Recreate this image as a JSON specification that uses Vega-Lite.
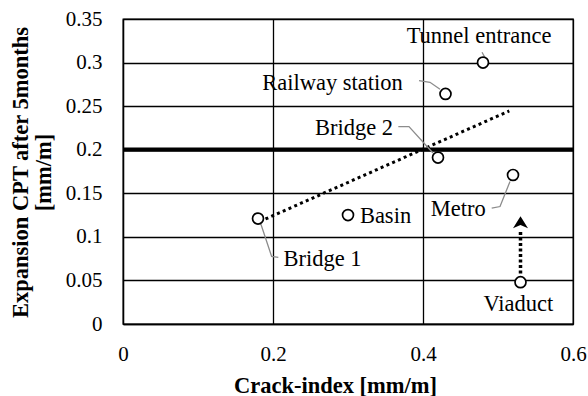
{
  "$schema": "https://vega.github.io/schema/vega-lite/v6.json",
  "width": 450,
  "height": 305,
  "autosize": "none",
  "padding": {"left": 123, "top": 19, "right": 15, "bottom": 72},
  "background": "white",
  "config": {
    "font": "Liberation Serif, Times New Roman, serif",
    "view": {"stroke": "black", "strokeWidth": 1.3},
    "text": {"font": "Liberation Serif, Times New Roman, serif"},
    "axis": {
      "labelFont": "Liberation Serif, Times New Roman, serif",
      "labelFontSize": 21,
      "labelColor": "black",
      "labelFlush": false,
      "labelOverlap": false,
      "ticks": false,
      "grid": true,
      "gridColor": "black",
      "gridWidth": 1.3,
      "gridOpacity": 1,
      "domainColor": "black",
      "domainWidth": 1.3,
      "titleFont": "Liberation Serif, Times New Roman, serif",
      "titleFontWeight": "bold",
      "titleFontSize": 22.5,
      "titleColor": "black"
    }
  },
  "datasets": {
    "sites": [
      {"site": "Tunnel entrance", "x": 0.48, "y": 0.30},
      {"site": "Railway station", "x": 0.43, "y": 0.264},
      {"site": "Bridge 2", "x": 0.42, "y": 0.191},
      {"site": "Metro", "x": 0.52, "y": 0.171},
      {"site": "Basin", "x": 0.30, "y": 0.125},
      {"site": "Bridge 1", "x": 0.18, "y": 0.121},
      {"site": "Viaduct", "x": 0.53, "y": 0.048}
    ],
    "labels": [
      {"text": "Tunnel entrance", "x": 0.4747, "y": 0.3221},
      {"text": "Railway station", "x": 0.2793, "y": 0.2686},
      {"text": "Bridge 2", "x": 0.308, "y": 0.217},
      {"text": "Metro", "x": 0.4471, "y": 0.1245},
      {"text": "Basin", "x": 0.35, "y": 0.1158},
      {"text": "Bridge 1", "x": 0.266, "y": 0.0668},
      {"text": "Viaduct", "x": 0.5271, "y": 0.0152}
    ],
    "leaders": [
      {"site": "Tunnel entrance", "i": 0, "x": 0.4787, "y": 0.3118},
      {"site": "Tunnel entrance", "i": 1, "x": 0.4831, "y": 0.3049},
      {"site": "Railway station", "i": 0, "x": 0.3947, "y": 0.2793},
      {"site": "Railway station", "i": 1, "x": 0.4093, "y": 0.2774},
      {"site": "Railway station", "i": 2, "x": 0.4227, "y": 0.2694},
      {"site": "Bridge 2", "i": 0, "x": 0.3671, "y": 0.2265},
      {"site": "Bridge 2", "i": 1, "x": 0.3813, "y": 0.2265},
      {"site": "Bridge 2", "i": 2, "x": 0.4133, "y": 0.1963},
      {"site": "Metro", "i": 0, "x": 0.516, "y": 0.1635},
      {"site": "Metro", "i": 1, "x": 0.5027, "y": 0.1348},
      {"site": "Metro", "i": 2, "x": 0.4916, "y": 0.133},
      {"site": "Bridge 1", "i": 0, "x": 0.1827, "y": 0.1176},
      {"site": "Bridge 1", "i": 1, "x": 0.1982, "y": 0.0775},
      {"site": "Bridge 1", "i": 2, "x": 0.2071, "y": 0.0764}
    ],
    "trend": [
      {"x": 0.19, "y": 0.1205},
      {"x": 0.515, "y": 0.2445}
    ],
    "threshold": [{"y": 0.2}],
    "arrow": [{"x": 0.53, "y": 0.058, "y2": 0.108, "head": 0.115}]
  },
  "layer": [
    {
      "data": {"name": "sites"},
      "mark": {"type": "point", "opacity": 0},
      "encoding": {
        "x": {
          "field": "x", "type": "quantitative",
          "scale": {"domain": [0, 0.6], "nice": false, "zero": false},
          "axis": {
            "values": [0, 0.2, 0.4, 0.6],
            "format": "~g",
            "labelPadding": 19,
            "title": "Crack-index [mm/m]",
            "titleX": 212,
            "titleY": 68,
            "titleBaseline": "alphabetic",
            "titleAlign": "center"
          }
        },
        "y": {
          "field": "y", "type": "quantitative",
          "scale": {"domain": [0, 0.35], "nice": false, "zero": false},
          "axis": {
            "values": [0, 0.05, 0.1, 0.15, 0.2, 0.25, 0.3, 0.35],
            "format": "~g",
            "labelPadding": 21,
            "title": ["Expansion CPT after 5months", "[mm/m]"],
            "titleAngle": -90,
            "titleX": -96,
            "titleY": 153,
            "titleAlign": "center",
            "titleBaseline": "alphabetic",
            "titleLineHeight": 23.5
          }
        }
      }
    },
    {
      "data": {"name": "threshold"},
      "mark": {"type": "rule", "color": "black", "strokeWidth": 4.2},
      "encoding": {"y": {"field": "y", "type": "quantitative"}}
    },
    {
      "data": {"name": "trend"},
      "mark": {"type": "line", "color": "black", "strokeWidth": 3, "strokeDash": [3, 3.3]},
      "encoding": {
        "x": {"field": "x", "type": "quantitative"},
        "y": {"field": "y", "type": "quantitative"}
      }
    },
    {
      "data": {"name": "leaders"},
      "mark": {"type": "line", "color": "#8c8c8c", "strokeWidth": 1.3},
      "encoding": {
        "x": {"field": "x", "type": "quantitative"},
        "y": {"field": "y", "type": "quantitative"},
        "detail": {"field": "site"},
        "order": {"field": "i"}
      }
    },
    {
      "data": {"name": "arrow"},
      "mark": {"type": "rule", "color": "black", "strokeWidth": 3.5, "strokeDash": [3, 2.5]},
      "encoding": {
        "x": {"field": "x", "type": "quantitative"},
        "y": {"field": "y", "type": "quantitative"},
        "y2": {"field": "y2"}
      }
    },
    {
      "data": {"name": "arrow"},
      "mark": {"type": "point", "shape": "M0,-1L1,0.6L0,0.15L-1,0.6Z", "size": 225, "filled": true, "fill": "black", "strokeWidth": 0, "opacity": 1},
      "encoding": {
        "x": {"field": "x", "type": "quantitative"},
        "y": {"field": "head", "type": "quantitative"}
      }
    },
    {
      "data": {"name": "sites"},
      "mark": {"type": "circle", "size": 120, "fill": "white", "stroke": "black", "strokeWidth": 1.7, "opacity": 1},
      "encoding": {
        "x": {"field": "x", "type": "quantitative"},
        "y": {"field": "y", "type": "quantitative"}
      }
    },
    {
      "data": {"name": "labels"},
      "mark": {"type": "text", "font": "Liberation Serif, Times New Roman, serif", "fontSize": 22.5, "color": "black", "align": "center", "baseline": "alphabetic"},
      "encoding": {
        "x": {"field": "x", "type": "quantitative"},
        "y": {"field": "y", "type": "quantitative"},
        "text": {"field": "text"}
      }
    }
  ]
}
